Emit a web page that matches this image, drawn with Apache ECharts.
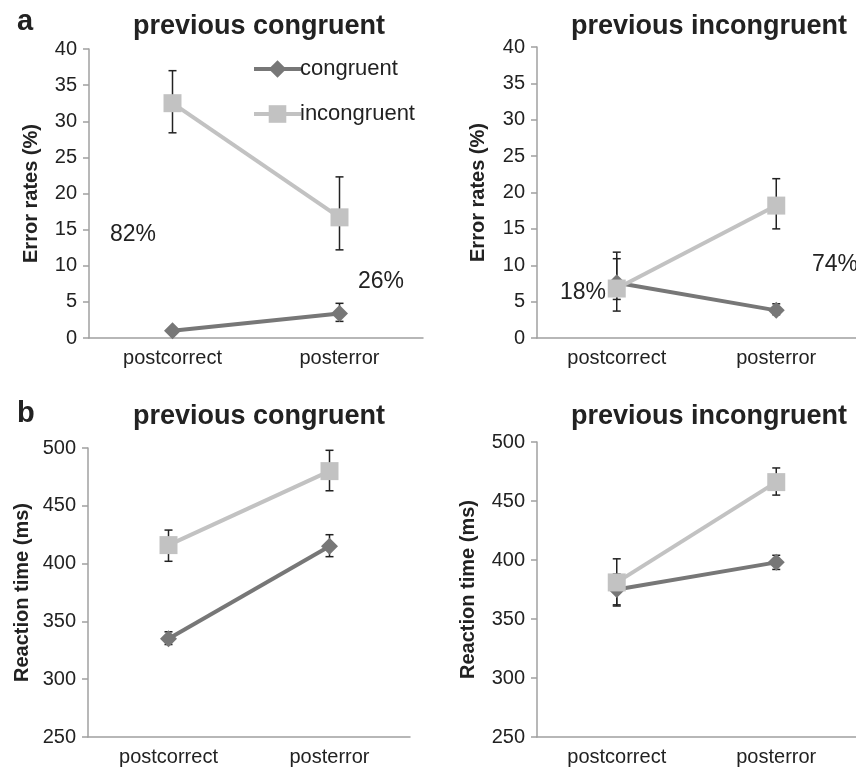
<!DOCTYPE html>
<html>
<head>
<meta charset="utf-8">
<script src="https://cdn.jsdelivr.net/npm/echarts@6/dist/echarts.min.js"></script>
<style>
  html, body { margin: 0; background: #fff; }
  #chart { width: 856px; height: 769px; }
</style>
</head>
<body>
<div id="chart"></div>
<script>
const categories = ["postcorrect", "posterror"];

// a: error rates (%), previous congruent
const errCongPrevCong = [1.0, 3.4];
const errCongPrevCongBars = [[0.7, 1.3], [2.3, 4.8]];
const errIncPrevCong = [32.5, 16.7];
const errIncPrevCongBars = [[28.4, 37.0], [12.2, 22.3]];
// a: error rates (%), previous incongruent
const errCongPrevInc = [7.6, 3.8];
const errCongPrevIncBars = [[3.7, 11.8], [3.2, 4.7]];
const errIncPrevInc = [6.8, 18.2];
const errIncPrevIncBars = [[5.3, 10.9], [15.0, 21.9]];

// b: reaction time (ms), previous congruent
const rtCongPrevCong = [335, 415];
const rtCongPrevCongBars = [[330, 341], [406, 425]];
const rtIncPrevCong = [416, 480];
const rtIncPrevCongBars = [[402, 429], [463, 498]];
// b: reaction time (ms), previous incongruent
const rtCongPrevInc = [375, 398];
const rtCongPrevIncBars = [[362, 388], [392, 404]];
const rtIncPrevInc = [381, 466];
const rtIncPrevIncBars = [[361, 401], [455, 478]];

const errTicks = { min: 0, max: 40, interval: 5 };
const rtTicks = { min: 250, max: 500, interval: 50 };

const congColor = "#777777";
const incColor = "#c2c2c2";
const textColor = "#222";
const axisColor = "#a0a0a0";
const font = "Liberation Sans";

const chart = echarts.init(document.getElementById("chart"));

function renderErrorBar(params, api) {
  const x = api.value(0);
  const lo = api.coord([x, api.value(1)]);
  const hi = api.coord([x, api.value(2)]);
  const w = 4;
  const style = { stroke: "#222", lineWidth: 1.5 };
  return {
    type: "group",
    children: [
      { type: "line", shape: { x1: lo[0], y1: lo[1], x2: hi[0], y2: hi[1] }, style: style },
      { type: "line", shape: { x1: lo[0] - w, y1: lo[1], x2: lo[0] + w, y2: lo[1] }, style: style },
      { type: "line", shape: { x1: hi[0] - w, y1: hi[1], x2: hi[0] + w, y2: hi[1] }, style: style },
    ],
  };
}

function barData(bars) {
  return bars.map((b, i) => [i, b[0], b[1]]);
}

function panelSeries(idx, cong, congBars, inc, incBars) {
  return [
    {
      type: "custom",
      xAxisIndex: idx,
      yAxisIndex: idx,
      z: 1,
      renderItem: renderErrorBar,
      encode: { x: 0, y: [1, 2] },
      data: barData(congBars),
    },
    {
      type: "custom",
      xAxisIndex: idx,
      yAxisIndex: idx,
      z: 1,
      renderItem: renderErrorBar,
      encode: { x: 0, y: [1, 2] },
      data: barData(incBars),
    },
    {
      name: "congruent",
      type: "line",
      xAxisIndex: idx,
      yAxisIndex: idx,
      z: 2,
      symbol: "diamond",
      symbolSize: 17,
      lineStyle: { color: congColor, width: 4 },
      itemStyle: { color: congColor },
      data: cong,
    },
    {
      name: "incongruent",
      type: "line",
      xAxisIndex: idx,
      yAxisIndex: idx,
      z: 3,
      symbol: "rect",
      symbolSize: 18,
      lineStyle: { color: incColor, width: 4 },
      itemStyle: { color: incColor },
      data: inc,
    },
  ];
}

function xAxis(idx) {
  return {
    type: "category",
    gridIndex: idx,
    data: categories,
    boundaryGap: true,
    axisLine: { lineStyle: { color: axisColor, width: 1.5 } },
    axisTick: { length: 8, lineStyle: { color: axisColor, width: 1.5 } },
    axisLabel: { color: textColor, fontSize: 20, fontFamily: font, margin: 10 },
  };
}

function yAxis(idx, ticks, name, gap) {
  return {
    type: "value",
    gridIndex: idx,
    min: ticks.min,
    max: ticks.max,
    interval: ticks.interval,
    name: name,
    nameLocation: "middle",
    nameGap: gap,
    nameTextStyle: { color: textColor, fontSize: 20, fontWeight: "bold", fontFamily: font },
    axisLine: { show: true, lineStyle: { color: axisColor, width: 1.5 } },
    axisTick: { show: true, length: 6, lineStyle: { color: axisColor, width: 1.5 } },
    axisLabel: { color: textColor, fontSize: 20, fontFamily: font, margin: 12 },
    splitLine: { show: false },
  };
}

function panelTitle(text, x, y) {
  return {
    text: text,
    left: x,
    top: y,
    textAlign: "center",
    textStyle: { color: textColor, fontSize: 27, fontWeight: "bold", fontFamily: font },
  };
}

function note(text, x, y) {
  return {
    type: "text",
    left: x,
    top: y,
    style: { text: text, fill: textColor, fontSize: 23, fontFamily: font },
  };
}

const option = {
  animation: false,
  backgroundColor: "#fff",
  title: [
    panelTitle("previous congruent", 254, 8),
    panelTitle("previous incongruent", 704, 8),
    panelTitle("previous congruent", 254, 398),
    panelTitle("previous incongruent", 704, 398),
    { text: "a", left: 12, top: 2, textStyle: { color: textColor, fontSize: 29, fontWeight: "bold", fontFamily: font } },
    { text: "b", left: 12, top: 394, textStyle: { color: textColor, fontSize: 29, fontWeight: "bold", fontFamily: font } },
  ],
  legend: {
    orient: "vertical",
    left: 247,
    top: 53,
    itemWidth: 47,
    itemHeight: 22,
    itemGap: 23,
    lineStyle: { width: 4 },
    textStyle: { color: textColor, fontSize: 22, fontFamily: font, padding: [0, 0, 0, -6] },
    data: ["congruent", "incongruent"],
  },
  grid: [
    { left: 89, right: 433, top: 49, bottom: 431 },
    { left: 537, right: -9, top: 47, bottom: 431 },
    { left: 88, right: 446, top: 448, bottom: 32 },
    { left: 537, right: -6, top: 442, bottom: 32 },
  ],
  xAxis: [xAxis(0), xAxis(1), xAxis(2), xAxis(3)],
  yAxis: [
    yAxis(0, errTicks, "Error rates (%)", 48),
    yAxis(1, errTicks, "Error rates (%)", 49),
    yAxis(2, rtTicks, "Reaction time (ms)", 56),
    yAxis(3, rtTicks, "Reaction time (ms)", 59),
  ],
  graphic: [
    note("82%", 110, 223),
    note("26%", 358, 270),
    note("18%", 560, 281),
    note("74%", 812, 253),
  ],
  series: [].concat(
    panelSeries(0, errCongPrevCong, errCongPrevCongBars, errIncPrevCong, errIncPrevCongBars),
    panelSeries(1, errCongPrevInc, errCongPrevIncBars, errIncPrevInc, errIncPrevIncBars),
    panelSeries(2, rtCongPrevCong, rtCongPrevCongBars, rtIncPrevCong, rtIncPrevCongBars),
    panelSeries(3, rtCongPrevInc, rtCongPrevIncBars, rtIncPrevInc, rtIncPrevIncBars)
  ),
};

chart.setOption(option);
</script>
</body>
</html>
